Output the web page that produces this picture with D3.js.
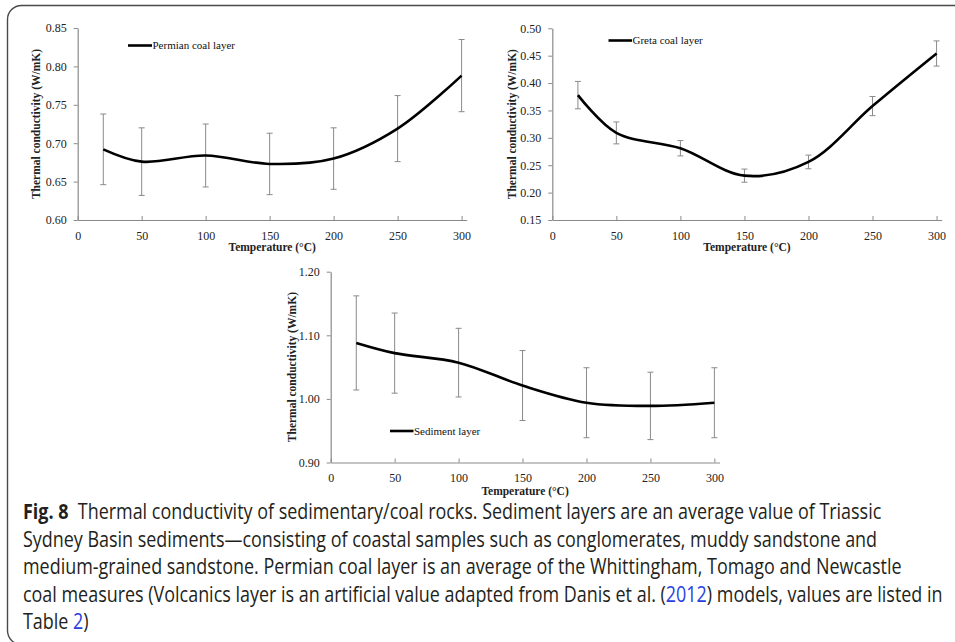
<!DOCTYPE html>
<html>
<head>
<meta charset="utf-8">
<script src="https://cdn.jsdelivr.net/npm/d3@7"></script>
<style>
  body { margin: 0; background: #fff; }
  svg { display: block; }
  .tick text { font-family: "Liberation Serif", serif; font-size: 12px; fill: #222; }
  .axis path, .axis line { stroke: #8a8a8a; }
  .title { font-family: "Liberation Serif", serif; font-size: 11.5px; font-weight: bold; fill: #222; }
  .legend { font-family: "Liberation Serif", serif; font-size: 11px; fill: #111; }
  .caption { font-family: "Open Sans", sans-serif; font-size: 21px; fill: #231f20; }
</style>
</head>
<body>
<div id="chart"></div>
<script>
// temperatures (°C)
const temps = [20, 50, 100, 150, 200, 250, 300];
const xTicks = [0, 50, 100, 150, 200, 250, 300];

// Permian coal layer
const permianMean = [0.692, 0.676, 0.684, 0.673, 0.680, 0.719, 0.788];
const permianErr  = [0.046, 0.044, 0.041, 0.040, 0.040, 0.043, 0.047];
const permianTicks = [0.60, 0.65, 0.70, 0.75, 0.80, 0.85];

// Greta coal layer
const gretaMean = [0.378, 0.309, 0.281, 0.231, 0.256, 0.358, 0.454];
const gretaErr  = [0.025, 0.020, 0.014, 0.012, 0.0125, 0.0175, 0.023];
const gretaTicks = [0.15, 0.20, 0.25, 0.30, 0.35, 0.40, 0.45, 0.50];

// Sediment layer
const sedMean = [1.088, 1.072, 1.057, 1.021, 0.994, 0.989, 0.994];
const sedErr  = [0.074, 0.063, 0.054, 0.055, 0.055, 0.053, 0.055];
const sedTicks = [0.90, 1.00, 1.10, 1.20];

const W = 955, H = 642;
const svg = d3.select("#chart").append("svg").attr("width", W).attr("height", H);

// frame with rounded corners (right/bottom edges run off the picture)
svg.append("rect")
  .attr("x", 7.5).attr("y", 5.5)
  .attr("width", 1000).attr("height", 639)
  .attr("rx", 14)
  .attr("fill", "none").attr("stroke", "#4a4a4a").attr("stroke-width", 1.4);

const panels = [
  { name: "Permian coal layer", mean: permianMean, err: permianErr, yTicks: permianTicks,
    yDomain: [0.60, 0.85], x0: 77.7, x1: 466.7, y0: 220, y1: 28,
    legend: [128, 152, 45.5], xTitleY: 251, yTitleX: 36 },
  { name: "Greta coal layer", mean: gretaMean, err: gretaErr, yTicks: gretaTicks,
    yDomain: [0.15, 0.50], x0: 552.3, x1: 941.7, y0: 220, y1: 28.3,
    legend: [608.5, 632, 40.5], xTitleY: 251, yTitleX: 512 },
  { name: "Sediment layer", mean: sedMean, err: sedErr, yTicks: sedTicks,
    yDomain: [0.90, 1.20], x0: 330.7, x1: 719.5, y0: 462.5, y1: 271.7,
    legend: [390, 413.5, 431], xTitleY: 495, yTitleX: 292 }
];

panels.forEach(p => {
  const g = svg.append("g");
  const x = d3.scaleLinear().domain([0, 304]).range([p.x0, p.x1]);
  const y = d3.scaleLinear().domain(p.yDomain).range([p.y0, p.y1]);

  g.append("g").attr("class", "axis")
    .attr("transform", `translate(0,${p.y0})`)
    .call(d3.axisBottom(x).tickValues(xTicks).tickSizeInner(-4).tickSizeOuter(0).tickPadding(11));

  g.append("g").attr("class", "axis")
    .attr("transform", `translate(${p.x0},0)`)
    .call(d3.axisLeft(y).tickValues(p.yTicks).tickFormat(d3.format(".2f"))
      .tickSizeInner(4).tickSizeOuter(0).tickPadding(7));

  g.selectAll(".axis .domain").attr("stroke-width", 1.2);

  // error bars
  const pts = temps.map((t, i) => ({ t, m: p.mean[i], e: p.err[i] }));
  const eb = g.append("g").attr("stroke", "#8a8a8a").attr("stroke-width", 1);
  eb.selectAll(".v").data(pts).join("line")
    .attr("x1", d => x(d.t)).attr("x2", d => x(d.t))
    .attr("y1", d => y(d.m - d.e)).attr("y2", d => y(d.m + d.e));
  eb.selectAll(".ct").data(pts).join("line")
    .attr("x1", d => x(d.t) - 3).attr("x2", d => x(d.t) + 3)
    .attr("y1", d => y(d.m + d.e)).attr("y2", d => y(d.m + d.e));
  eb.selectAll(".cb").data(pts).join("line")
    .attr("x1", d => x(d.t) - 3).attr("x2", d => x(d.t) + 3)
    .attr("y1", d => y(d.m - d.e)).attr("y2", d => y(d.m - d.e));

  // smoothed line
  const line = d3.line().x(d => x(d.t)).y(d => y(d.m)).curve(d3.curveCatmullRom.alpha(0.5));
  g.append("path").datum(pts).attr("d", line)
    .attr("fill", "none").attr("stroke", "#000").attr("stroke-width", 2.6);

  // legend
  const [lx1, lx2, ly] = p.legend;
  g.append("line").attr("x1", lx1).attr("x2", lx2).attr("y1", ly).attr("y2", ly)
    .attr("stroke", "#000").attr("stroke-width", 2.6);
  g.append("text").attr("class", "legend").attr("x", lx2 + 0.5).attr("y", ly + 3.5).text(p.name);

  // axis titles
  g.append("text").attr("class", "title")
    .attr("x", (p.x0 + p.x1) / 2).attr("y", p.xTitleY).attr("text-anchor", "middle")
    .text("Temperature (°C)");
  g.append("text").attr("class", "title")
    .attr("transform", `translate(${p.yTitleX},${(p.y0 + p.y1) / 2}) rotate(-90)`)
    .attr("text-anchor", "middle").attr("dy", "0.35em")
    .text("Thermal conductivity (W/mK)");
});

// caption
const captionLines = [
  [["Fig. 8", "b"], ["  Thermal conductivity of sedimentary/coal rocks. Sediment layers are an average value of Triassic"]],
  [["Sydney Basin sediments—consisting of coastal samples such as conglomerates, muddy sandstone and"]],
  [["medium-grained sandstone. Permian coal layer is an average of the Whittingham, Tomago and Newcastle"]],
  [["coal measures (Volcanics layer is an artificial value adapted from Danis et al. ("], ["2012", "l"], [") models, values are listed in"]],
  [["Table "], ["2", "l"], [")"]]
];
const capX = 23, capY = 519, capLead = 27.6;
const cap = svg.append("g");
captionLines.forEach((parts, i) => {
  const t = cap.append("text").attr("class", "caption")
    .attr("x", capX).attr("y", capY + i * capLead)
    .attr("xml:space", "preserve");
  parts.forEach(([s, k]) => {
    const ts = t.append("tspan").text(s);
    if (k === "b") ts.attr("font-weight", "bold");
    if (k === "l") ts.attr("fill", "#2a3fe0");
  });
});
// condense the caption so the first line ends where it does in the figure
const first = cap.select("text").node().getComputedTextLength();
const sx = (882 - capX) / first;
cap.attr("transform", `translate(${capX},0) scale(${sx},1) translate(${-capX},0)`);
</script>
</body>
</html>
